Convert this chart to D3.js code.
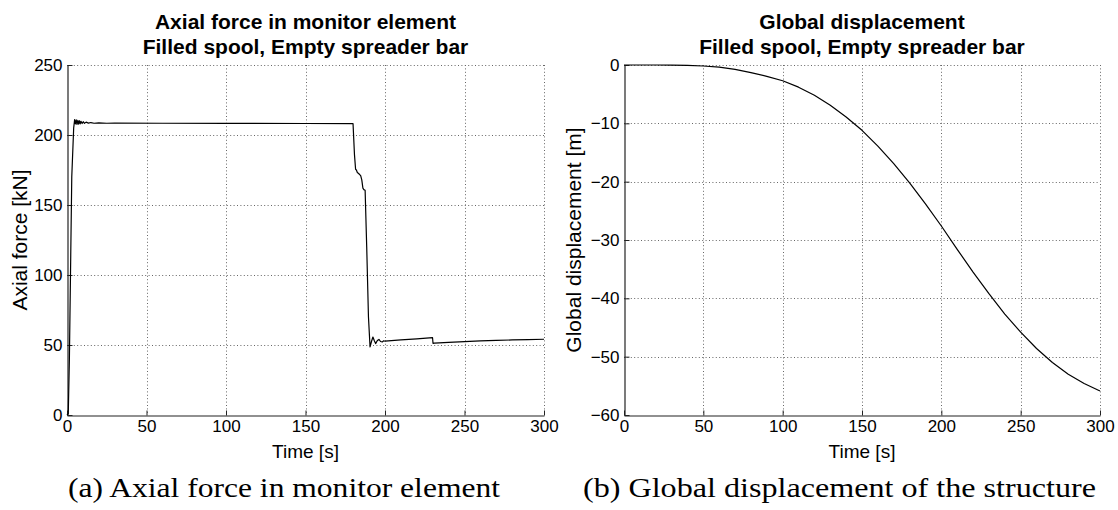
<!DOCTYPE html>
<html>
<head>
<meta charset="utf-8">
<script src="https://cdn.jsdelivr.net/npm/d3@7"></script>
<style>
  html, body { margin: 0; padding: 0; background: #fff; }
  svg { display: block; }
</style>
</head>
<body>
<svg id="chart" width="1118" height="510"></svg>
<script>
// ---------- Data ----------
const timeTicks = [0, 50, 100, 150, 200, 250, 300];
const forceTicks = [0, 50, 100, 150, 200, 250];
const dispTicks = [-60, -50, -40, -30, -20, -10, 0];

const forceTime = [0, 0.8, 1.5, 3, 4.2, 4.8, 5.3, 5.8, 6.3, 6.8, 7.3, 7.8, 8.3, 8.8, 9.5, 10.2, 11, 12, 13.5, 15, 17, 20, 25, 30, 60, 100, 150,
  179.9, 180.8, 181.5, 182.0, 182.6, 183.4, 184.7, 185.4, 186.1, 186.7, 187.5, 188.5, 189.6, 190.6, 191.5, 192.4, 193.3, 194.1, 195.2, 196.2, 197.2, 198.3, 199.2, 200,
  210, 220, 229.9, 230.2, 231, 240, 250, 260, 270, 280, 290, 300];
const forceValues = [0, 1, 40, 170, 205, 211, 208, 210.8, 207.5, 210.5, 207.8, 210.2, 208, 209.8, 208.2, 209.5, 208.3, 209.2, 208.5, 208.9, 208.4, 208.6, 208.4, 208.5, 208.4, 208.3, 208.2,
  208.1, 186, 175.5, 175, 173.2, 172.5, 171, 168, 162, 161, 160.5, 120, 70, 48.6, 52.5, 55.7, 53, 51, 53.2, 54, 52.5, 52.2, 53, 52.7,
  53.6, 54.4, 55.2, 51.2, 51.4, 51.9, 52.4, 52.9, 53.3, 53.6, 53.9, 54.1];

const dispTime = [0, 10, 20, 30, 40, 50, 60, 70, 80, 90, 100, 110, 120, 130, 140, 150, 160, 170, 180, 190, 200, 210, 220, 230, 240, 250, 260, 270, 280, 290, 300];
const dispValues = [0, 0, 0, -0.02, -0.07, -0.17, -0.38, -0.75, -1.3, -1.95, -2.7, -3.8, -5.2, -6.9, -8.9, -11.2, -13.9, -16.9, -20.2, -23.8, -27.6, -31.6, -35.5, -39.2, -42.7, -45.8, -48.6, -51.0, -53.0, -54.6, -55.9];

// ---------- Layout ----------
const svg = d3.select("#chart");
const FONT = "'Liberation Sans', Arial, Helvetica, sans-serif";
const plotTop = 65, plotBottom = 415;

function panel(opt) {
  const x = d3.scaleLinear().domain([0, 300]).range([opt.x0, opt.x1]);
  const y = d3.scaleLinear().domain(opt.ydom).range([plotBottom, plotTop]);
  const g = svg.append("g");

  // grid
  const grid = g.append("g").attr("stroke", "#666").attr("stroke-width", 1).attr("stroke-dasharray", "1,2.4");
  timeTicks.filter(t => t !== 0).forEach(t => {
    grid.append("line").attr("x1", Math.round(x(t)) + 0.5).attr("x2", Math.round(x(t)) + 0.5).attr("y1", plotTop).attr("y2", plotBottom);
  });
  opt.yticks.filter(v => v !== opt.ydom[0]).forEach(v => {
    grid.append("line").attr("x1", opt.x0).attr("x2", opt.x1).attr("y1", Math.round(y(v)) + 0.5).attr("y2", Math.round(y(v)) + 0.5);
  });

  // axes
  const xa = g.append("g").attr("transform", `translate(0,${plotBottom + 0.5})`)
    .call(d3.axisBottom(x).tickValues(timeTicks).tickSize(-5).tickSizeOuter(0).tickPadding(4).tickFormat(d3.format("d")));
  const ya = g.append("g").attr("transform", `translate(${opt.x0 + 0.5},0)`)
    .call(d3.axisLeft(y).tickValues(opt.yticks).tickSize(-5).tickSizeOuter(0).tickPadding(5).tickFormat(d3.format("d")));
  [xa, ya].forEach(a => {
    a.select(".domain").attr("stroke", "#222").attr("stroke-width", 1.2);
    a.selectAll(".tick line").attr("stroke", "#222");
    a.selectAll("text").attr("font-family", FONT).attr("font-size", 17).attr("fill", "#000");
  });

  // line
  g.append("path")
    .datum(opt.t.map((t, i) => [t, opt.v[i]]))
    .attr("fill", "none").attr("stroke", "#000").attr("stroke-width", 1.2)
    .attr("stroke-linejoin", "round")
    .attr("d", d3.line().x(d => x(d[0])).y(d => y(d[1])));

  const cx = (opt.x0 + opt.x1) / 2;
  // titles
  g.append("text").attr("x", cx).attr("y", 29).attr("text-anchor", "middle")
    .attr("font-family", FONT).attr("font-weight", "bold").attr("font-size", 21).text(opt.title1);
  g.append("text").attr("x", cx).attr("y", 54).attr("text-anchor", "middle")
    .attr("font-family", FONT).attr("font-weight", "bold").attr("font-size", 21).text(opt.title2);
  // x label
  g.append("text").attr("x", cx).attr("y", 458).attr("text-anchor", "middle")
    .attr("font-family", FONT).attr("font-size", 19).text("Time [s]");
  // y label
  g.append("text").attr("transform", `translate(${opt.ylabX},${(plotTop + plotBottom) / 2}) rotate(-90)`)
    .attr("text-anchor", "middle").attr("font-family", FONT).attr("font-size", 21).text(opt.ylabel);
  // caption
  g.append("text").attr("x", opt.capX).attr("y", 497).attr("text-anchor", "middle")
    .attr("font-family", "'Liberation Serif', 'Times New Roman', serif").attr("font-size", 28)
    .attr("textLength", opt.capW).attr("lengthAdjust", "spacingAndGlyphs").text(opt.caption);
}

panel({
  x0: 67, x1: 544, ydom: [0, 250], yticks: forceTicks, t: forceTime, v: forceValues,
  title1: "Axial force in monitor element", title2: "Filled spool, Empty spreader bar",
  ylabel: "Axial force [kN]", ylabX: 27, caption: "(a) Axial force in monitor element", capX: 284, capW: 432
});
panel({
  x0: 624, x1: 1100, ydom: [-60, 0], yticks: dispTicks, t: dispTime, v: dispValues,
  title1: "Global displacement", title2: "Filled spool, Empty spreader bar",
  ylabel: "Global displacement [m]", ylabX: 581, caption: "(b) Global displacement of the structure", capX: 839.5, capW: 513
});
</script>
</body>
</html>
